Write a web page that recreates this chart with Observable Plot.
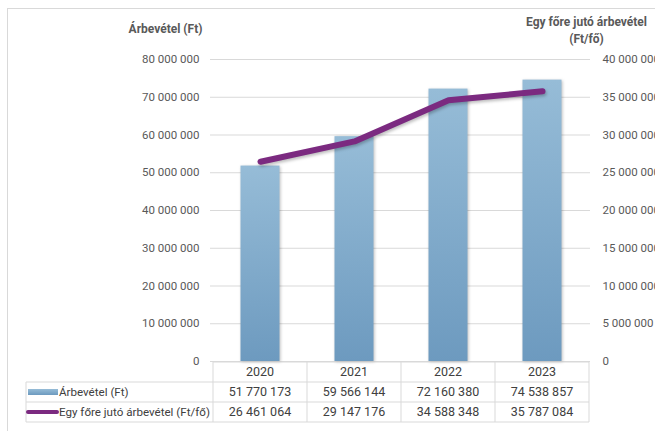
<!DOCTYPE html>
<html>
<head>
<meta charset="utf-8">
<script src="https://cdn.jsdelivr.net/npm/d3@7"></script>
<script src="https://cdn.jsdelivr.net/npm/@observablehq/plot@0.6"></script>
<style>
  html, body { margin: 0; padding: 0; background: #fff; overflow: hidden; }
  #wrap { position: relative; width: 655px; height: 431px; }
  #border { position: absolute; left: 7px; top: 8px; width: 700px; height: 440px; border: 1px solid #d9d9d9; pointer-events: none; }
  svg.chart { font-family: Roboto, "Liberation Sans", sans-serif; }
  svg.chart g[aria-label="bar"] rect { filter: drop-shadow(1px 1px 1.5px rgba(0,0,0,0.25)); }
  svg.chart g[aria-label="line"] path { filter: drop-shadow(1px 2px 1.5px rgba(0,0,0,0.25)); }
</style>
</head>
<body>
<svg width="0" height="0" style="position:absolute">
  <defs>
    <linearGradient id="barGrad" x1="0" y1="0" x2="0" y2="1">
      <stop offset="0" stop-color="#96bcd7"/>
      <stop offset="1" stop-color="#6d9abf"/>
    </linearGradient>
  </defs>
</svg>
<div id="wrap"><div id="border"></div></div>
<script>
const years = ["2020", "2021", "2022", "2023"];
const revenue = [51770173, 59566144, 72160380, 74538857];
const perCapita = [26461064, 29147176, 34588348, 35787084];
const leftTicks = [0, 10e6, 20e6, 30e6, 40e6, 50e6, 60e6, 70e6, 80e6];
const rightTicks = [0, 5e6, 10e6, 15e6, 20e6, 25e6, 30e6, 35e6, 40e6];
const seriesNames = ["Árbevétel (Ft)", "Egy főre jutó árbevétel (Ft/fő)"];
const leftTitle = "Árbevétel (Ft)";
const rightTitle = "Egy főre jutó árbevétel\n(Ft/fő)";

const ratio = 2; // right axis max 40M maps onto left axis max 80M
const fmt = d => d3.format(",")(d).replace(/,/g, " ");

const data = years.map((y, i) => ({year: y, revenue: revenue[i], perCapita: perCapita[i]}));

const barColor = "url(#barGrad)";
const lineColor = "#7b2a80";
const gridColor = "#d9d9d9";
const textColor = "#595959";
const tableText = "#404040";

// data table under the chart, columns positioned by the band x scale
function dataTable(index, scales, values, dims) {
  const x = scales.x;
  const bw = x.bandwidth();
  const top = dims.height - dims.marginBottom + 1;
  const rowH = 20;
  const leftEdge = 26;
  const g = d3.create("svg:g").attr("font-size", 12.5).attr("fill", tableText);
  const colL = x(years[0]);
  const colR = x(years[years.length - 1]) + bw;
  // horizontal lines
  g.append("line").attr("x1", colL).attr("x2", colR).attr("y1", top).attr("y2", top);
  for (let r = 1; r <= 3; r++) {
    g.append("line").attr("x1", leftEdge).attr("x2", colR).attr("y1", top + r * rowH).attr("y2", top + r * rowH);
  }
  // vertical lines
  g.append("line").attr("x1", leftEdge).attr("x2", leftEdge).attr("y1", top + rowH).attr("y2", top + 3 * rowH);
  years.forEach(y => {
    g.append("line").attr("x1", x(y)).attr("x2", x(y)).attr("y1", top).attr("y2", top + 3 * rowH);
  });
  g.append("line").attr("x1", colR).attr("x2", colR).attr("y1", top).attr("y2", top + 3 * rowH);
  g.selectAll("line").attr("stroke", gridColor).attr("stroke-width", 1);
  // cells
  years.forEach((y, i) => {
    const cx = x(y) + bw / 2;
    g.append("text").attr("x", cx).attr("y", top + rowH / 2).attr("dy", "0.35em").attr("text-anchor", "middle").text(y);
    g.append("text").attr("x", cx).attr("y", top + rowH * 1.5).attr("dy", "0.35em").attr("text-anchor", "middle").text(fmt(revenue[i]));
    g.append("text").attr("x", cx).attr("y", top + rowH * 2.5).attr("dy", "0.35em").attr("text-anchor", "middle").text(fmt(perCapita[i]));
  });
  // legend keys
  g.append("rect").attr("x", 28).attr("y", top + rowH * 1.5 - 3).attr("width", 30).attr("height", 6).attr("fill", barColor);
  g.append("line").attr("x1", 28).attr("x2", 57).attr("y1", top + rowH * 2.5).attr("y2", top + rowH * 2.5)
    .attr("stroke", lineColor).attr("stroke-width", 4).attr("stroke-linecap", "round");
  g.append("text").attr("x", 59).attr("y", top + rowH * 1.5).attr("dy", "0.35em").attr("text-anchor", "start").attr("font-size", 11.6).text(seriesNames[0]);
  g.append("text").attr("x", 59).attr("y", top + rowH * 2.5).attr("dy", "0.35em").attr("text-anchor", "start").attr("font-size", 11.6).text(seriesNames[1]);
  return g.node();
}

const chart = Plot.plot({
  width: 655,
  height: 431,
  marginLeft: 212,
  marginRight: 66,
  marginTop: 59,
  marginBottom: 70,
  style: {fontSize: "11.5px", color: textColor, background: "transparent", fontFamily: "Roboto, sans-serif"},
  x: {type: "band", domain: years, padding: 0, axis: null},
  y: {domain: [0, 80e6], axis: null},
  marks: [
    Plot.gridY(leftTicks, {stroke: gridColor, strokeOpacity: 1, insetLeft: -2, insetRight: -1}),
    Plot.barY(data, {x: "year", y: "revenue", fill: barColor, insetLeft: 27.5, insetRight: 27.5}),
    Plot.line(data, {x: "year", y: d => d.perCapita * ratio, stroke: lineColor, strokeWidth: 6, strokeLinecap: "round", strokeLinejoin: "round"}),
    Plot.axisY(leftTicks, {anchor: "left", tickSize: 0, tickPadding: 13, tickFormat: fmt, label: null, fill: textColor}),
    Plot.axisY(rightTicks, {anchor: "right", y: d => d * ratio, text: fmt, tickSize: 0, tickPadding: 13, label: null, fill: textColor}),
    Plot.text([leftTitle], {frameAnchor: "top-left", dx: -47, dy: -30, textAnchor: "middle", lineAnchor: "middle", fontWeight: "bold", fill: textColor, fontSize: 12}),
    Plot.text([rightTitle], {frameAnchor: "top-right", dx: -3, dy: -30, textAnchor: "middle", lineAnchor: "middle", fontWeight: "bold", fill: textColor, fontSize: 12, lineHeight: 1.4}),
    dataTable
  ]
});
chart.classList.add("chart");
chart.style.position = "absolute";
chart.style.left = "0px";
chart.style.top = "0px";
document.getElementById("wrap").prepend(chart);
</script>
</body>
</html>
